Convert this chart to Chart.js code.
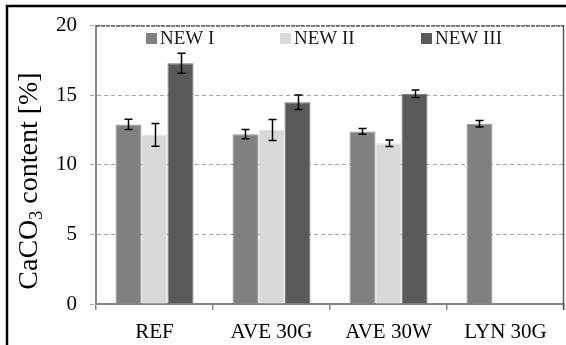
<!DOCTYPE html>
<html>
<head>
<meta charset="utf-8">
<script src="https://cdn.jsdelivr.net/npm/chart.js@4"></script>
<style>
html,body{margin:0;padding:0;background:#fff;}
canvas{display:block;}
</style>
</head>
<body>
<canvas id="c" width="566" height="345"></canvas>
<script>
const categories = ['REF', 'AVE 30G', 'AVE 30W', 'LYN 30G'];
const seriesNames = ['NEW I', 'NEW II', 'NEW III'];
const newI = [12.9, 12.2, 12.4, 12.95];
const newIErr = [0.37, 0.33, 0.2, 0.24];
const newII = [12.15, 12.5, 11.55, null];
const newIIErr = [0.82, 0.76, 0.23, null];
const newIII = [17.3, 14.5, 15.1, null];
const newIIIErr = [0.72, 0.52, 0.27, null];
const yTickValues = [0, 5, 10, 15, 20];
const yTitleMain = 'CaCO';
const yTitleSub = '3';
const yTitleRest = ' content [%]';

const colors = ['#808080', '#d9d9d9', '#595959'];
const borders = ['#939393', '#e2e2e2', '#707070'];
const FONT = "'Liberation Serif', 'Times New Roman', serif";

const frame = {
  id: 'frame',
  beforeDraw(chart) {
    const ctx = chart.ctx;
    ctx.save();
    ctx.fillStyle = '#fff';
    ctx.fillRect(0, 0, chart.width, chart.height);
    ctx.restore();
  },
  afterDraw(chart) {
    const ctx = chart.ctx;
    const a = chart.chartArea;
    ctx.save();
    ctx.strokeStyle = '#5a5a5a';
    ctx.lineWidth = 1.5;
    ctx.setLineDash([4, 1]);
    ctx.beginPath();
    ctx.moveTo(a.left, a.top + 0.5);
    ctx.lineTo(a.right, a.top + 0.5);
    ctx.stroke();
    ctx.setLineDash([]);
    ctx.beginPath();
    ctx.moveTo(a.right - 0.5, a.top);
    ctx.lineTo(a.right - 0.5, a.bottom + 6);
    ctx.stroke();
    ctx.strokeStyle = '#000';
    ctx.lineWidth = 2.5;
    ctx.beginPath();
    ctx.moveTo(chart.width, 6);
    ctx.lineTo(7, 6);
    ctx.lineTo(7, chart.height);
    ctx.stroke();
    const cx = 37, cy = 181;
    ctx.fillStyle = '#000';
    ctx.textBaseline = 'alphabetic';
    ctx.textAlign = 'left';
    const big = '28px ' + FONT, small = '18px ' + FONT;
    ctx.font = big;
    const w1 = ctx.measureText(yTitleMain).width;
    const w3 = ctx.measureText(yTitleRest).width;
    ctx.font = small;
    const w2 = ctx.measureText(yTitleSub).width;
    const total = w1 + w2 + w3;
    ctx.translate(cx, cy);
    ctx.rotate(-Math.PI / 2);
    let x = -total / 2;
    ctx.font = big;
    ctx.fillText(yTitleMain, x, 0);
    x += w1;
    ctx.font = small;
    ctx.fillText(yTitleSub, x, 5);
    x += w2;
    ctx.font = big;
    ctx.fillText(yTitleRest, x, 0);
    ctx.restore();
  }
};

const errorBars = {
  id: 'errorBars',
  afterDatasetsDraw(chart) {
    const ctx = chart.ctx;
    const ys = chart.scales.y;
    ctx.save();
    ctx.strokeStyle = '#000';
    ctx.lineWidth = 1.5;
    chart.data.datasets.forEach((ds, i) => {
      const meta = chart.getDatasetMeta(i);
      meta.data.forEach((bar, j) => {
        const v = ds.data[j], e = ds.errors[j];
        if (v == null || e == null) return;
        const x = Math.round(bar.x) + 0.5;
        const t = ys.getPixelForValue(v + e), b = ys.getPixelForValue(v - e);
        ctx.beginPath();
        ctx.moveTo(x, t); ctx.lineTo(x, b);
        ctx.moveTo(x - 4, t); ctx.lineTo(x + 4, t);
        ctx.moveTo(x - 4, b); ctx.lineTo(x + 4, b);
        ctx.stroke();
      });
    });
    ctx.restore();
  }
};

const legendPlugin = {
  id: 'customLegend',
  afterDraw(chart) {
    const ctx = chart.ctx;
    const xs = [146, 280, 421];
    ctx.save();
    ctx.font = '19px ' + FONT;
    ctx.textBaseline = 'middle';
    ctx.textAlign = 'left';
    chart.data.datasets.forEach((ds, i) => {
      ctx.fillStyle = ds.backgroundColor;
      ctx.fillRect(xs[i], 33, 11, 11);
      ctx.fillStyle = '#1a1a1a';
      ctx.fillText(ds.label, xs[i] + 14, 39);
    });
    ctx.restore();
  }
};

new Chart(document.getElementById('c'), {
  type: 'bar',
  data: {
    labels: categories,
    datasets: [
      { label: seriesNames[0], data: newI, errors: newIErr, backgroundColor: colors[0], borderColor: borders[0], borderWidth: 1, borderSkipped: 'bottom' },
      { label: seriesNames[1], data: newII, errors: newIIErr, backgroundColor: colors[1], borderColor: borders[1], borderWidth: 1, borderSkipped: 'bottom' },
      { label: seriesNames[2], data: newIII, errors: newIIIErr, backgroundColor: colors[2], borderColor: borders[2], borderWidth: 1, borderSkipped: 'bottom' }
    ]
  },
  options: {
    responsive: false,
    animation: false,
    devicePixelRatio: 1,
    layout: { padding: { top: 24, right: 2, left: 0, bottom: 0 } },
    datasets: { bar: { barPercentage: 1.0, categoryPercentage: 0.667 } },
    plugins: { legend: { display: false }, tooltip: { enabled: false } },
    scales: {
      x: {
        afterFit(s) { s.height = 41; },
        grid: { drawOnChartArea: false, drawTicks: true, tickLength: 6, color: '#868686', lineWidth: 1.5, offset: true },
        border: { display: true, color: '#868686', width: 2 },
        ticks: { color: '#000', font: { family: FONT, size: 21 }, padding: 10 }
      },
      y: {
        min: 0, max: 20,
        afterFit(s) { s.width = 96; },
        afterBuildTicks(s) { s.ticks = yTickValues.map(v => ({ value: v })); },
        grid: { color: '#a6a6a6', lineWidth: 1, tickLength: 6, drawTicks: true, tickBorderDash: [4, 2] },
        border: { display: true, color: '#868686', width: 2, dash: [4, 3] },
        ticks: { color: '#000', font: { family: FONT, size: 21 }, padding: 13 }
      }
    }
  },
  plugins: [frame, errorBars, legendPlugin]
});
</script>
</body>
</html>
